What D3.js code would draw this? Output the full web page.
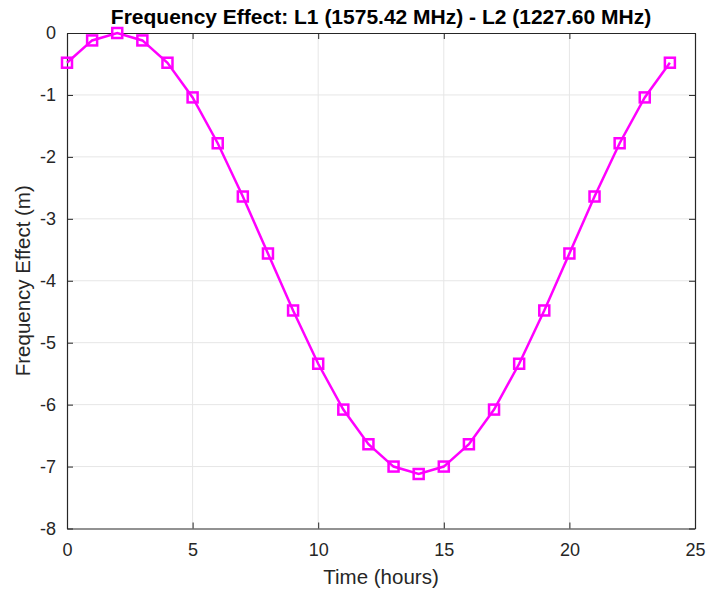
<!DOCTYPE html>
<html><head><meta charset="utf-8">
<script src="https://cdn.jsdelivr.net/npm/d3@7"></script>
<style>body{margin:0;background:#fff}svg{display:block}text{font-family:"Liberation Sans",Arial,Helvetica,sans-serif}</style>
</head><body>
<script>
const hours = [0,1,2,3,4,5,6,7,8,9,10,11,12,13,14,15,16,17,18,19,20,21,22,23,24];
const effect = [-0.48,-0.12,0,-0.12,-0.48,-1.04,-1.78,-2.64,-3.56,-4.48,-5.34,-6.08,-6.64,-7.0,-7.12,-7.0,-6.64,-6.08,-5.34,-4.48,-3.56,-2.64,-1.78,-1.04,-0.48];
const xTicks = [0,5,10,15,20,25];
const yTicks = [0,-1,-2,-3,-4,-5,-6,-7,-8];
const titleText = "Frequency Effect: L1 (1575.42 MHz) - L2 (1227.60 MHz)";
const xLabel = "Time (hours)";
const yLabel = "Frequency Effect (m)";

const W=707,H=591, L=67, R=695, T=33, B=528.5;
const svg=d3.select("body").append("svg").attr("width",W).attr("height",H);
const x=d3.scaleLinear().domain([0,25]).range([L,R]);
const y=d3.scaleLinear().domain([-8,0]).range([B,T]);
const ax="#262626";
const fmt=d=>String(d);

// grid
svg.append("g").selectAll("line").data(xTicks.slice(1,-1)).join("line")
  .attr("x1",d=>x(d)).attr("x2",d=>x(d)).attr("y1",T).attr("y2",B)
  .attr("stroke","#e6e6e6").attr("stroke-width",1);
svg.append("g").selectAll("line").data(yTicks.slice(1,-1)).join("line")
  .attr("y1",d=>y(d)).attr("y2",d=>y(d)).attr("x1",L).attr("x2",R)
  .attr("stroke","#e6e6e6").attr("stroke-width",1);

// axes
const tl=6;
const gxb=svg.append("g").attr("transform",`translate(0,${B})`).call(d3.axisBottom(x).tickValues(xTicks).tickSizeInner(-tl).tickSizeOuter(0).tickPadding(14.5).tickFormat(fmt));
const gxt=svg.append("g").attr("transform",`translate(0,${T})`).call(d3.axisTop(x).tickValues(xTicks).tickSizeInner(-tl).tickSizeOuter(0).tickFormat(""));
const gyl=svg.append("g").attr("transform",`translate(${L},0)`).call(d3.axisLeft(y).tickValues(yTicks).tickSizeInner(-tl).tickSizeOuter(0).tickPadding(11).tickFormat(fmt));
const gyr=svg.append("g").attr("transform",`translate(${R},0)`).call(d3.axisRight(y).tickValues(yTicks).tickSizeInner(-tl).tickSizeOuter(0).tickFormat(""));
[gxb,gxt,gyl,gyr].forEach(g=>{
  g.select(".domain").attr("stroke",ax).attr("stroke-width",1.2);
  g.selectAll(".tick line").attr("stroke",ax).attr("stroke-width",1);
  g.selectAll(".tick text").attr("fill",ax).style("font-size","18px").style("font-family",'"Liberation Sans",Arial,sans-serif');
});
gxb.selectAll(".tick text").attr("dy","0.71em");

// line
svg.append("path").datum(hours.map((h,i)=>[h,effect[i]]))
  .attr("d",d3.line().x(d=>x(d[0])).y(d=>y(d[1])))
  .attr("fill","none").attr("stroke","#ff00ff").attr("stroke-width",2.5);
const s=10;
svg.append("g").selectAll("rect").data(hours.map((h,i)=>[h,effect[i]])).join("rect")
  .attr("x",d=>x(d[0])-s/2).attr("y",d=>y(d[1])-s/2).attr("width",s).attr("height",s)
  .attr("fill","none").attr("stroke","#ff00ff").attr("stroke-width",2.5);

// texts
svg.append("text").attr("x",(L+R)/2).attr("y",24).attr("text-anchor","middle")
  .style("font-size","21px").style("font-weight","bold").attr("fill","#000").text(titleText);
svg.append("text").attr("x",(L+R)/2).attr("y",584).attr("text-anchor","middle")
  .style("font-size","20.5px").attr("fill",ax).text(xLabel);
svg.append("text").attr("transform",`translate(30,${(T+B)/2}) rotate(-90)`).attr("text-anchor","middle")
  .style("font-size","20.5px").attr("fill",ax).text(yLabel);
</script>
</body></html>
